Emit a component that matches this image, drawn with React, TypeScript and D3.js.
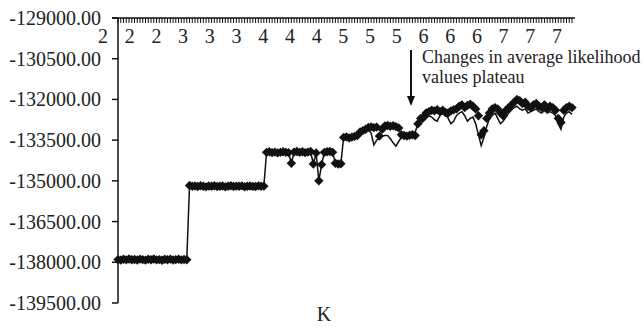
import React from "react";
import * as d3 from "d3";

const kValues = [2, 3, 4, 5, 6, 7];
const yTicks = [-129000, -130500, -132000, -133500, -135000, -136500, -138000, -139500];
const xTickLabels = ["2", "2", "2", "3", "3", "3", "4", "4", "4", "5", "5", "5", "6", "6", "6", "7", "7", "7"];

// diamonds, one per run for each K
const markerK2 = [-137900, -137920, -137890, -137910, -137880, -137905, -137895, -137915, -137885, -137900, -137920, -137890, -137905, -137880, -137910, -137900, -137925, -137890, -137905, -137885, -137915, -137900, -137890, -137910, -137895, -137905];
const markerK3 = [-135170, -135200, -135190, -135210, -135180, -135200, -135220, -135190, -135200, -135180, -135210, -135200, -135190, -135220, -135200, -135180, -135210, -135195, -135200, -135185, -135215, -135200, -135190, -135205, -135210, -135185, -135200, -135195];
const markerK4 = [-133950, -133930, -133960, -133940, -133970, -133950, -133930, -133950, -133960, -134350, -133940, -133920, -133950, -133930, -133960, -133940, -133920, -134380, -133970, -135000, -134400, -133950, -133930, -133920, -133950, -134350, -134380, -134370];
const markerK5 = [-133400, -133380, -133420, -133390, -133360, -133330, -133200, -133150, -133100, -133030, -133010, -133040, -133020, -133350, -133100, -132980, -132960, -132990, -132970, -133000, -133050, -133300, -133330, -133350, -133320, -133300, -133330, -132900];
const markerK6 = [-132700, -132650, -132500, -132450, -132400, -132420, -132380, -132450, -132400, -132480, -132500, -132420, -132380, -132350, -132250, -132200, -132300, -132220, -132180, -132250, -132350, -132600, -133300, -133150, -132700, -132500, -132350, -132300];
const markerK7 = [-132350, -132500, -132600, -132400, -132300, -132200, -132100, -132000, -132050, -132150, -132100, -132250, -132300, -132200, -132150, -132250, -132300, -132200, -132350, -132250, -132300, -132400, -132700, -132850, -132400, -132300, -132250, -132300];

// line series
const lineK2 = markerK2;
const lineK3 = markerK3;
const lineK4 = markerK4;
const lineK5 = [-133400, -133380, -133420, -133390, -133360, -133330, -133200, -133150, -133100, -133100, -133250, -133680, -133500, -133400, -133350, -133330, -133330, -133450, -133600, -133720, -133550, -133400, -133330, -133330, -133320, -133300, -133200, -132900];
const lineK6 = [-132900, -132800, -132700, -132600, -132650, -132750, -132800, -132600, -132500, -132550, -132700, -132900, -132800, -132600, -132500, -132450, -132600, -132800, -132700, -132650, -132900, -133300, -133700, -133400, -133000, -132700, -132600, -132500];
const lineK7 = [-132700, -132900, -132800, -132650, -132500, -132400, -132300, -132250, -132350, -132400, -132350, -132500, -132450, -132400, -132350, -132450, -132500, -132400, -132500, -132450, -132500, -132600, -132900, -133100, -132650, -132500, -132450, -132550];

const markerSeries = [markerK2, markerK3, markerK4, markerK5, markerK6, markerK7];
const lineSeries = [lineK2, lineK3, lineK4, lineK5, lineK6, lineK7];

const W = 644, H = 327;
const font = "'Liberation Serif', 'Times New Roman', serif";

export default function App() {
  const markers = markerSeries.flat();
  const lines = lineSeries.flat();
  const n = markers.length;

  const x = d3.scaleLinear().domain([0, n - 1]).range([118, 572]);
  const y = d3.scaleLinear().domain([-129000, -139500]).range([18, 303]);
  const labelX = d3.scaleLinear().domain([0, xTickLabels.length - 1]).range([103, 557]);

  const line = d3.line<number>()
    .x((d, i) => x(i))
    .y(d => y(d));

  const diamond = d3.symbol().type(d3.symbolSquare).size(44)();

  return (
    <svg width={W} height={H} style={{ position: "absolute", left: 0, top: 0, background: "#fff" }}>
      <rect width={W} height={H} fill="#fff" />

      {/* top category axis */}
      <line x1={112} x2={x(n - 1) + 3} y1={y(-129000)} y2={y(-129000)} stroke="#111" strokeWidth={1.5} />
      {d3.range(n).map(i => (
        <line key={"t" + i} x1={x(i)} x2={x(i)} y1={y(-129000)} y2={y(-129000) + 5} stroke="#111" strokeWidth={1} />
      ))}
      {xTickLabels.map((t, j) => (
        <text key={"xl" + j} x={labelX(j)} y={43} fontFamily={font} fontSize={20} textAnchor="middle" fill="#222">{t}</text>
      ))}

      {/* value axis */}
      <line x1={118} x2={118} y1={y(-129000)} y2={y(-139500)} stroke="#111" strokeWidth={1.5} />
      {yTicks.map(v => (
        <g key={v}>
          <line x1={112} x2={118} y1={y(v)} y2={y(v)} stroke="#111" strokeWidth={1.5} />
          <text x={101} y={y(v)} dy="0.35em" fontFamily={font} fontSize={20} textAnchor="end" fill="#222">{v.toFixed(2)}</text>
        </g>
      ))}

      <path d={line(lines) || ""} fill="none" stroke="#111" strokeWidth={1.5} />
      {markers.map((v, i) => (
        <path key={"m" + i} d={diamond || ""} transform={`translate(${x(i)},${y(v)}) rotate(45)`} fill="#111" />
      ))}

      {/* annotation */}
      <line x1={411} x2={411} y1={50} y2={97} stroke="#111" strokeWidth={2} />
      <path d="M407,96 L415,96 L411,106 Z" fill="#111" />
      <text x={422} y={63} fontFamily={font} fontSize={18} fill="#222">Changes in average likelihood</text>
      <text x={422} y={83} fontFamily={font} fontSize={18} fill="#222">values plateau</text>

      <text x={324} y={321} fontFamily={font} fontSize={20} textAnchor="middle" fill="#222">K</text>
    </svg>
  );
}
